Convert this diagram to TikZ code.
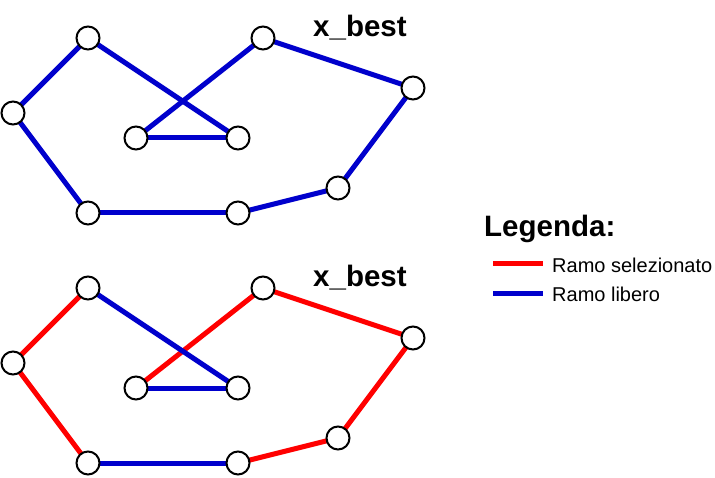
\documentclass[tikz,border=0pt]{standalone}
\usepackage{fontspec}
\setmainfont{Liberation Sans}
\usetikzlibrary{positioning,backgrounds}
\definecolor{ramoblu}{RGB}{0,0,204}
\definecolor{ramorosso}{RGB}{255,0,0}
\tikzset{
  citta/.style={circle, draw=black, line width=2pt, fill=white, minimum size=23pt, inner sep=0pt},
  libero/.style={draw=ramoblu, line width=5pt},
  selez/.style={draw=ramorosso, line width=5pt},
  titolo/.style={anchor=base west, inner sep=0pt, font=\fontsize{29.5}{31}\selectfont\bfseries},
  voce/.style={anchor=base west, inner sep=0pt, font=\fontsize{20}{22}\selectfont},
}

\begin{document}
\begin{tikzpicture}[x=1pt, y=-1pt]
\useasboundingbox (0,0) rectangle (715,478);

% soluzione di partenza
\node[citta] (a1) at (88,38) {};
\node[citta] (b1) at (13,113) {};
\node[citta] (c1) at (88,213) {};
\node[citta] (d1) at (238,213) {};
\node[citta] (e1) at (338,188) {};
\node[citta] (f1) at (413,88) {};
\node[citta] (g1) at (263,38) {};
\node[citta] (h1) at (136,138) {};
\node[citta] (i1) at (238,138) {};
\begin{scope}[on background layer]
\draw[libero] (a1.center) -- (b1.center);
\draw[libero] (b1.center) -- (c1.center);
\draw[libero] (c1.center) -- (d1.center);
\draw[libero] (d1.center) -- (e1.center);
\draw[libero] (e1.center) -- (f1.center);
\draw[libero] (f1.center) -- (g1.center);
\draw[libero] (g1.center) -- (h1.center);
\draw[libero] (h1.center) -- (i1.center);
\draw[libero] (i1.center) -- (a1.center);
\end{scope}
\node[titolo] (xbest1) at (313,37) {x\_best};

% rami selezionati
\node[citta] (a2) at (88,288) {};
\node[citta] (b2) at (13,363) {};
\node[citta] (c2) at (88,463) {};
\node[citta] (d2) at (238,463) {};
\node[citta] (e2) at (338,438) {};
\node[citta] (f2) at (413,338) {};
\node[citta] (g2) at (263,288) {};
\node[citta] (h2) at (136,388) {};
\node[citta] (i2) at (238,388) {};
\begin{scope}[on background layer]
\draw[selez] (a2.center) -- (b2.center);
\draw[selez] (b2.center) -- (c2.center);
\draw[libero] (c2.center) -- (d2.center);
\draw[selez] (d2.center) -- (e2.center);
\draw[selez] (e2.center) -- (f2.center);
\draw[selez] (f2.center) -- (g2.center);
\draw[selez] (g2.center) -- (h2.center);
\draw[libero] (h2.center) -- (i2.center);
\draw[libero] (i2.center) -- (a2.center);
\end{scope}
\node[titolo] (xbest2) at (313,287) {x\_best};

% legenda
\node[titolo] (legenda) at (484,237) {Legenda:};
\coordinate (rs1) at (493,264);
\coordinate (rs2) at (543,264);
\coordinate (rl1) at (493,294);
\coordinate (rl2) at (543,294);
\draw[selez] (rs1) -- (rs2);
\draw[libero] (rl1) -- (rl2);
\node[voce] (selezionato) at (552,273) {Ramo selezionato};
\node[voce] (libero) at (552,302) {Ramo libero};
\end{tikzpicture}
\end{document}
